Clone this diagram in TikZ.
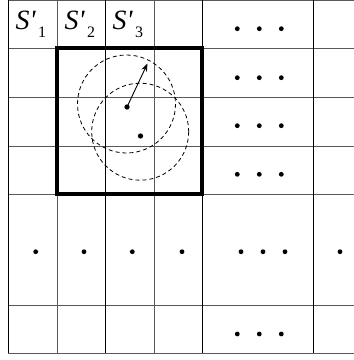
\documentclass[tikz,border=0pt]{standalone}
\usepackage{fontspec}
\setmainfont{Liberation Serif}
\usetikzlibrary{arrows.meta}
\newcommand{\slabel}[1]{{\fontsize{28}{30}\selectfont\itshape S\textquotesingle}\hspace{2.5bp}\raisebox{-7.5bp}{\fontsize{16}{16}\selectfont #1}}
\begin{document}
\begin{tikzpicture}[x=1bp,y=-1bp,
  gridline/.style={line width=0.9bp, draw=black},
  gridgray/.style={line width=0.9bp, draw=black!65},
  thickbox/.style={line width=3.8bp, draw=black},
  dot/.style={circle, fill=black, inner sep=0pt, minimum size=4.8bp},
  bigdot/.style={circle, fill=black, inner sep=0pt, minimum size=5.3bp},
  ring/.style={line width=0.8bp, dash pattern=on 4bp off 3bp},
  lbl/.style={inner sep=0pt, anchor=base west}]
\useasboundingbox (0,0) rectangle (354,360);
% horizontal grid lines
\foreach \y in {0.5,48,97,146,194,305,353} \draw[gridgray] (8,\y) -- (354,\y);
% vertical grid lines
\foreach \x in {8,105,202,313} \draw[gridline] (\x,0) -- (\x,353);
\foreach \x in {57,154} \draw[gridgray] (\x,0) -- (\x,353);
% thick window
\draw[thickbox] (57,48) rectangle (202,194);
% labels
\node[lbl] (s1) at (15.5,29.5) {\slabel{1}};
\node[lbl] (s2) at (64.5,29.5) {\slabel{2}};
\node[lbl] (s3) at (112.5,29.5) {\slabel{3}};
% circles
\node[bigdot] (c1) at (127,107) {};
\node[bigdot] (c2) at (140.5,136) {};
\draw[ring] (126.5,104) circle (49);
\draw[ring] (140.2,131.7) circle (48.5);
\coordinate (tip) at (147.5,63.5);
\draw[line width=0.9bp, -{Stealth[length=8bp,width=6bp]}] (c1.center) -- (tip);
% dot triples
\foreach \y in {28.7,77.7,125.7,174.3,334}
  \foreach \x in {237.3,259.3,281.3}
    \node[dot] at (\x,\y) {};
\foreach \x in {35.7,84,132.3,182,241,263,285,340}
  \node[dot] at (\x,251.7) {};
\end{tikzpicture}
\end{document}
